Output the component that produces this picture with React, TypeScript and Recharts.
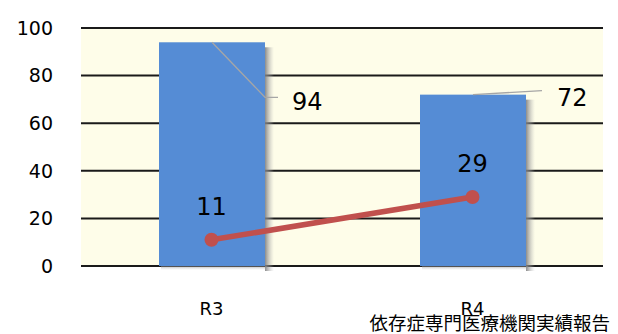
import React from "react";
import { ComposedChart, Bar, Line, XAxis, YAxis, CartesianGrid, LabelList } from "recharts";

const categories = ["R3", "R4"];
const barValues = [94, 72];
const lineValues = [11, 29];
const yTicks = [0, 20, 40, 60, 80, 100];
const footerText = "依存症専門医療機関実績報告";

const data = categories.map((c, i) => ({ name: c, bar: barValues[i], line: lineValues[i] }));

const NUM_FONT = "'DejaVu Sans', Verdana, sans-serif";

const BarShape = (props: any) => {
  const { x, y, width, height, fill } = props;
  return (
    <g>
      <rect x={x + width} y={y + 5} width={9} height={height} fill="url(#shadowGrad)" />
      <rect x={x + 2} y={y + height} width={width} height={4} fill="url(#shadowGradV)" />
      <rect x={x} y={y} width={width} height={height} fill={fill} />
    </g>
  );
};

const BarLabel = (props: any) => {
  const { x, y, width, value, index } = props;
  const cx = x + width / 2;
  const right = x + width;
  if (index === 0) {
    return (
      <g>
        <polyline points={`${cx},${y} ${right},${y + 55} ${right + 13},${y + 55}`} fill="none" stroke="#A6A6A6" strokeWidth={1.3} />
        <text x={right + 27} y={y + 68} fontSize={24} fontFamily={NUM_FONT} fill="#000">{value}</text>
      </g>
    );
  }
  return (
    <g>
      <polyline points={`${cx},${y} ${right + 16},${y - 4}`} fill="none" stroke="#A6A6A6" strokeWidth={1.3} />
      <text x={right + 31} y={y + 11} fontSize={24} fontFamily={NUM_FONT} fill="#000">{value}</text>
    </g>
  );
};

const LineLabel = (props: any) => {
  const { x, y, value } = props;
  return (
    <text x={x} y={y - 25} textAnchor="middle" fontSize={24} fontFamily={NUM_FONT} fill="#000">{value}</text>
  );
};

export default function App() {
  return (
    <div style={{ position: "absolute", left: 0, top: 0, width: 618, height: 334, background: "#fff", overflow: "hidden" }}>
      <ComposedChart width={618} height={334} data={data} margin={{ top: 28, right: 15, bottom: 38, left: 0 }}>
        <defs>
          <linearGradient id="shadowGrad" x1="0" y1="0" x2="1" y2="0">
            <stop offset="0%" stopColor="#7f7f7f" stopOpacity={0.9} />
            <stop offset="100%" stopColor="#bfbfbf" stopOpacity={0} />
          </linearGradient>
          <linearGradient id="shadowGradV" x1="0" y1="0" x2="0" y2="1">
            <stop offset="0%" stopColor="#7f7f7f" stopOpacity={0.6} />
            <stop offset="100%" stopColor="#bfbfbf" stopOpacity={0} />
          </linearGradient>
        </defs>
        <CartesianGrid vertical={false} stroke="#1a1a1a" strokeWidth={2} fill="#FEFDE9" fillOpacity={1} />
        <XAxis
          dataKey="name"
          height={30}
          axisLine={false}
          tickLine={false}
          tickSize={0}
          tickMargin={36}
          tick={{ fontSize: 18, fontFamily: NUM_FONT, fill: "#000" }}
        />
        <YAxis
          width={81}
          domain={[0, 100]}
          ticks={yTicks}
          interval={0}
          axisLine={false}
          tickLine={false}
          tickSize={0}
          tickMargin={28}
          tick={{ fontSize: 19, fontFamily: NUM_FONT, fill: "#000" }}
        />
        <Bar dataKey="bar" fill="#558CD5" barSize={106} isAnimationActive={false} shape={<BarShape />}>
          <LabelList dataKey="bar" content={<BarLabel />} />
        </Bar>
        <Line
          dataKey="line"
          stroke="#C0504D"
          strokeWidth={5.5}
          dot={{ r: 7, fill: "#C0504D", stroke: "#C0504D", strokeWidth: 0 }}
          isAnimationActive={false}
        >
          <LabelList dataKey="line" content={<LineLabel />} />
        </Line>
      </ComposedChart>
      <div
        style={{
          position: "absolute",
          right: 8,
          top: 312,
          fontFamily: "'Noto Sans CJK JP', sans-serif",
          fontSize: 18.5,
          lineHeight: "20px",
          color: "#000",
          whiteSpace: "nowrap",
        }}
      >
        {footerText}
      </div>
    </div>
  );
}
